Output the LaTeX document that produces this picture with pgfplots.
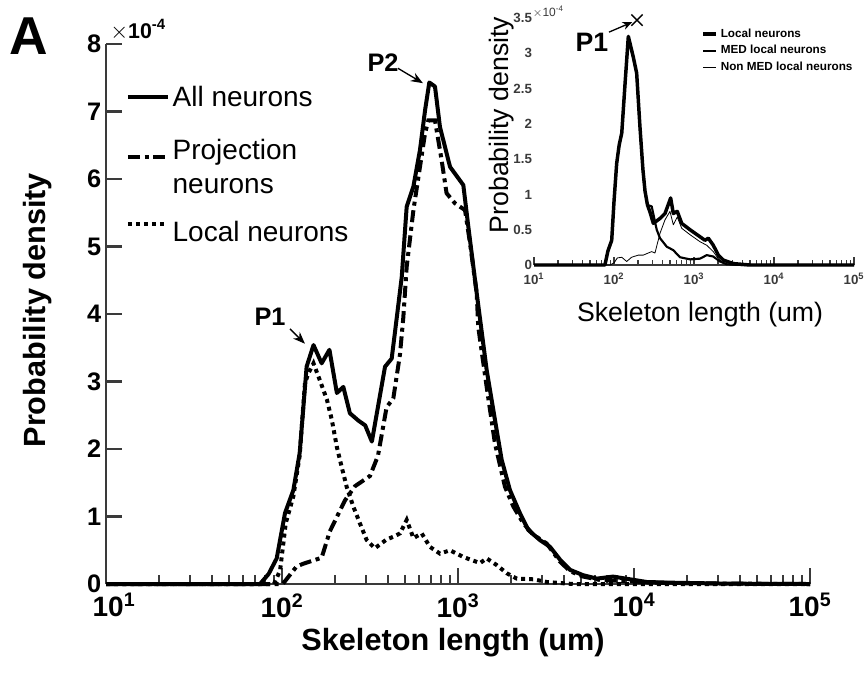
\documentclass[border=0pt]{standalone}
\usepackage{pgfplots}
\pgfplotsset{compat=1.18}
\usepackage{fontspec}
\setmainfont{Liberation Sans}
\usetikzlibrary{arrows.meta}
\definecolor{axgray}{HTML}{3A3A3A}

\begin{document}
\begin{tikzpicture}
\useasboundingbox (0,0) rectangle (649.5pt,-507pt);
% ---------------- main axis ----------------
\begin{axis}[
  at={(79.5pt,-438pt)}, anchor=south west,
  scale only axis, width=528pt, height=405pt,
  xmode=log, xmin=10, xmax=1e5, ymin=0, ymax=8e-4,
  axis x line=bottom, axis y line=left,
  axis line style={-, draw=axgray, line width=2.2pt},
  tick align=inside,
  major tick length=12pt, minor tick length=7pt,
  tick style={draw=axgray, line width=1.8pt},
  xtick={10,100,1000,10000,100000},
  xticklabels={\hspace{12pt}10\textsuperscript{1},10\textsuperscript{2},10\textsuperscript{3},10\textsuperscript{4},10\textsuperscript{5}},
  minor xtick={20,30,40,50,60,70,80,90,200,300,400,500,600,700,800,900,2000,3000,4000,5000,6000,7000,8000,9000,20000,30000,40000,50000,60000,70000,80000,90000},
  ytick={0,1e-4,2e-4,3e-4,4e-4,5e-4,6e-4,7e-4,8e-4},
  yticklabels={0,1,2,3,4,5,6,7,8},
  scaled y ticks=false,
  x tick label style={font=\bfseries\fontsize{21}{24}\selectfont, yshift=-3.5pt},
  y tick label style={font=\bfseries\fontsize{19}{22}\selectfont},
  xlabel={Skeleton length (um)},
  ylabel={Probability density},
  xlabel style={font=\bfseries\fontsize{23}{26}\selectfont, at={(axis description cs:0.493,-0.109)}, anchor=center},
  ylabel style={font=\bfseries\fontsize{23}{26}\selectfont, at={(axis description cs:-0.0966,0.507)}, anchor=center, rotate=0},
  clip=false,
  legend style={draw=none, fill=none, at={(axis description cs:0.028,0.928)}, anchor=north west,
    font=\fontsize{21}{26}\selectfont, row sep=16pt, inner sep=0pt},
  legend cell align=left,
  legend image code/.code={\draw[#1] (0pt,0pt) -- (30pt,0pt);},
]
\addplot[black, line width=3pt, line join=round] coordinates {
(10,0) (75,0) (84,0.15e-4) (93.3,0.38e-4) (104,1.05e-4) (116,1.39e-4) (126,1.94e-4)
(138,3.22e-4) (151,3.54e-4) (168,3.27e-4) (186,3.47e-4) (205,2.83e-4) (223,2.92e-4)
(243,2.53e-4) (272,2.42e-4) (297,2.35e-4) (324,2.11e-4) (385,3.22e-4) (420,3.34e-4)
(448,3.93e-4) (479,4.55e-4) (511,5.59e-4) (558,5.89e-4) (608,6.43e-4) (650,7.02e-4)
(687,7.43e-4) (740,7.37e-4) (790,6.77e-4) (901,6.18e-4) (1072,5.91e-4) (1145,5.29e-4)
(1277,4.31e-4) (1455,3.17e-4) (1622,2.43e-4) (1771,1.84e-4) (1974,1.39e-4) (2248,1.05e-4)
(2508,0.80e-4) (2924,0.65e-4) (3334,0.55e-4) (3802,0.36e-4) (4330,0.21e-4) (5150,0.13e-4)
(6140,0.08e-4) (7600,0.11e-4) (9490,0.07e-4) (11800,0.03e-4) (16000,0.02e-4) (35000,0.005e-4) (100000,0)
};
\addlegendentry{All neurons}
\addplot[black, line width=3pt, dash pattern=on 9pt off 3.5pt on 3pt off 3.5pt] coordinates {
(10,0) (101,0) (121,0.26e-4) (132,0.30e-4) (168,0.39e-4) (187,0.78e-4) (228,1.24e-4)
(260,1.45e-4) (316,1.60e-4) (351,1.90e-4) (393,2.62e-4) (429,2.75e-4) (468,3.40e-4)
(489,3.95e-4) (511,4.70e-4) (558,5.54e-4) (608,6.18e-4) (650,6.68e-4) (679,6.87e-4)
(740,6.87e-4) (807,6.28e-4) (861,5.79e-4) (961,5.64e-4) (1096,5.54e-4) (1170,5.05e-4)
(1277,4.31e-4) (1303,3.81e-4) (1455,2.92e-4) (1622,2.08e-4) (1849,1.44e-4) (2061,1.15e-4)
(2349,0.90e-4) (2679,0.73e-4) (3191,0.60e-4) (3802,0.33e-4) (4330,0.19e-4) (5150,0.11e-4)
(6410,0.06e-4) (9490,0.04e-4) (13000,0.02e-4) (20000,0.01e-4) (100000,0)
};
\addlegendentry{\begin{tabular}{@{}l@{}}Projection\\neurons\end{tabular}}
\addplot[black, line width=3pt, dash pattern=on 3pt off 3pt] coordinates {
(10,0) (90,0) (97.5,0.2e-4) (105,0.9e-4) (116,1.3e-4) (126,1.9e-4) (135,2.97e-4)
(141,3.12e-4) (151,3.27e-4) (164,3.02e-4) (180,2.73e-4) (192,2.43e-4) (205,2.03e-4)
(218,1.74e-4) (233,1.44e-4) (254,1.15e-4) (277,0.90e-4) (303,0.65e-4) (337,0.53e-4)
(393,0.66e-4) (429,0.70e-4) (468,0.75e-4) (511,0.95e-4) (558,0.68e-4) (622,0.75e-4)
(693,0.55e-4) (790,0.45e-4) (901,0.50e-4) (1072,0.40e-4) (1334,0.31e-4) (1455,0.38e-4)
(1660,0.28e-4) (1892,0.16e-4) (2158,0.08e-4) (2679,0.07e-4) (3191,0.03e-4) (4500,0) (100000,0)
};
\addlegendentry{\rule[-12pt]{0pt}{39pt}Local neurons}
\node[font=\bfseries\fontsize{19}{22}\selectfont] at (axis cs:85.5,3.96e-4) {P1};
\draw[-{Stealth[length=9pt,width=7pt]}, line width=1pt] (axis cs:111,3.78e-4) -- (axis cs:135,3.56e-4);
\node[font=\bfseries\fontsize{19}{22}\selectfont] at (axis cs:375,7.73e-4) {P2};
\draw[-{Stealth[length=9pt,width=7pt]}, line width=1pt] (axis cs:456,7.64e-4) -- (axis cs:632,7.42e-4);
\end{axis}
% ---------------- inset axis ----------------
\begin{axis}[
  at={(400.5pt,-198.75pt)}, anchor=south west,
  scale only axis, width=240pt, height=185.25pt,
  xmode=log, xmin=10, xmax=1e5, ymin=0, ymax=3.5e-4,
  axis x line=bottom, axis y line=left,
  x axis line style={-, draw=axgray, line width=1.5pt},
  y axis line style={-, draw=none},
  tick align=inside,
  major tick length=6pt, minor tick length=3.5pt,
  xtick style={draw=axgray, line width=1pt},
  ytick style={draw=none},
  xtick={10,100,1000,10000,100000},
  xticklabels={10\textsuperscript{1},10\textsuperscript{2},10\textsuperscript{3},10\textsuperscript{4},10\textsuperscript{5}},
  minor xtick={20,30,40,50,60,70,80,90,200,300,400,500,600,700,800,900,2000,3000,4000,5000,6000,7000,8000,9000,20000,30000,40000,50000,60000,70000,80000,90000},
  ytick={0,0.5e-4,1e-4,1.5e-4,2e-4,2.5e-4,3e-4,3.5e-4},
  yticklabels={0,0.5,1,1.5,2,2.5,3,3.5},
  scaled y ticks=false,
  tick label style={font=\bfseries\fontsize{10}{12}\selectfont, text=axgray},
  x tick label style={yshift=-2.5pt},
  y tick label style={xshift=2pt},
  xlabel={Skeleton length (um)},
  ylabel={Probability density},
  xlabel style={font=\fontsize{20}{24}\selectfont, at={(axis description cs:0.519,-0.2)}, anchor=center},
  ylabel style={font=\fontsize{20}{24}\selectfont, at={(axis description cs:-0.1,0.567)}, anchor=center, rotate=0},
  clip=false,
  legend style={draw=none, fill=none, at={(axis description cs:0.522,0.968)}, anchor=north west,
    font=\bfseries\fontsize{8.8}{10}\selectfont, row sep=0.5pt, inner sep=0pt},
  legend cell align=left,
  legend image code/.code={\draw[#1] (0pt,0pt) -- (10pt,0pt);},
]
\addplot[black, line width=2.6pt, line join=round] coordinates {
(10,0) (77,0) (84,0.2e-4) (93.6,0.35e-4) (100,0.9e-4) (108,1.44e-4) (116,1.7e-4)
(125,1.87e-4) (138,2.6e-4) (151,3.24e-4) (174,2.95e-4) (192,2.72e-4) (211,1.96e-4)
(230,1.35e-4) (244,1.05e-4) (262,0.85e-4) (282,0.75e-4) (310,0.59e-4) (376,0.66e-4)
(434,0.73e-4) (511,0.95e-4) (551,0.73e-4) (618,0.76e-4) (702,0.59e-4) (891,0.50e-4)
(1029,0.45e-4) (1189,0.40e-4) (1372,0.35e-4) (1510,0.38e-4) (1742,0.28e-4) (2013,0.14e-4)
(2323,0.07e-4) (3097,0.02e-4) (5000,0) (100000,0)
};
\addlegendentry{Local neurons}
\addplot[black, line width=1.6pt, line join=round] coordinates {
(10,0) (77,0) (84,0.2e-4) (93.6,0.35e-4) (100,0.9e-4) (108,1.44e-4) (116,1.7e-4)
(125,1.87e-4) (138,2.6e-4) (151,3.22e-4) (174,2.93e-4) (192,2.70e-4) (211,1.94e-4)
(230,1.33e-4) (244,1.03e-4) (262,0.85e-4) (296,0.83e-4) (342,0.50e-4) (376,0.38e-4)
(456,0.26e-4) (551,0.21e-4) (668,0.11e-4) (891,0.08e-4) (1189,0.09e-4) (1442,0.14e-4)
(1742,0.12e-4) (2113,0.05e-4) (2563,0.01e-4) (4000,0) (100000,0)
};
\addlegendentry{MED local neurons}
\addplot[black, line width=0.6pt, line join=round] coordinates {
(10,0) (89,0) (100,0.03e-4) (110,0.1e-4) (125,0.11e-4) (144,0.05e-4) (166,0.11e-4)
(201,0.14e-4) (232,0.14e-4) (268,0.17e-4) (296,0.19e-4) (325,0.17e-4) (376,0.45e-4)
(434,0.64e-4) (501,0.76e-4) (551,0.57e-4) (618,0.68e-4) (702,0.52e-4) (891,0.43e-4)
(1189,0.33e-4) (1442,0.28e-4) (1742,0.19e-4) (2013,0.09e-4) (2323,0.03e-4) (3097,0) (100000,0)
};
\addlegendentry{Non MED local neurons}
\addplot[black, only marks, mark=x, mark size=6pt, line width=1pt, forget plot] coordinates {(194,3.47e-4)};
\node[font=\bfseries\fontsize{20}{24}\selectfont] at (axis cs:53,3.16e-4) {P1};
\draw[-{Stealth[length=7pt,width=6pt]}, line width=1pt] (axis cs:86.6,3.30e-4) -- (axis cs:168,3.44e-4);
\end{axis}
% ---------------- panel letter and scale labels ----------------
\node[font=\bfseries\fontsize{40}{44}\selectfont] at (21.75pt,-27pt) {A};
\node[anchor=base west, inner sep=0pt, font=\bfseries\fontsize{16}{18}\selectfont] at (82.5pt,-28.5pt) {$\times$10\textsuperscript{-4}};
\node[anchor=base west, inner sep=0pt, font=\fontsize{9}{10}\selectfont, text=axgray] at (399.5pt,-12.5pt) {$\times$10\textsuperscript{-4}};
\end{tikzpicture}
\end{document}
